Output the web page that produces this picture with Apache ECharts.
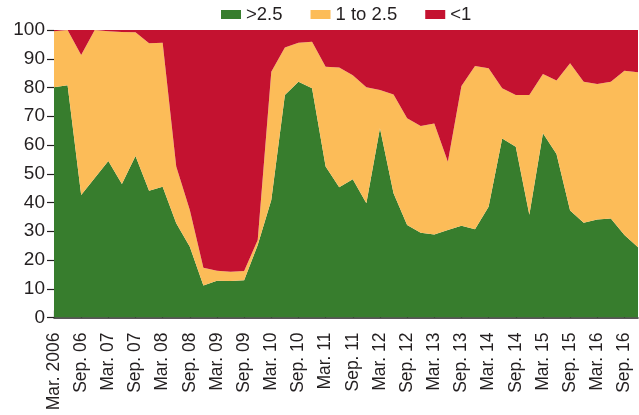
<!DOCTYPE html>
<html>
<head>
<meta charset="utf-8">
<script src="https://cdn.jsdelivr.net/npm/echarts@6/dist/echarts.min.js"></script>
<style>
  html, body { margin: 0; padding: 0; background: #fff; }
  #main { width: 639px; height: 415px; }
</style>
</head>
<body>
<div id="main"></div>
<script>
  // quarterly periods, labels shown every other one
  const quarters = [
    'Mar. 2006', 'Jun. 06', 'Sep. 06', 'Dec. 06',
    'Mar. 07', 'Jun. 07', 'Sep. 07', 'Dec. 07',
    'Mar. 08', 'Jun. 08', 'Sep. 08', 'Dec. 08',
    'Mar. 09', 'Jun. 09', 'Sep. 09', 'Dec. 09',
    'Mar. 10', 'Jun. 10', 'Sep. 10', 'Dec. 10',
    'Mar. 11', 'Jun. 11', 'Sep. 11', 'Dec. 11',
    'Mar. 12', 'Jun. 12', 'Sep. 12', 'Dec. 12',
    'Mar. 13', 'Jun. 13', 'Sep. 13', 'Dec. 13',
    'Mar. 14', 'Jun. 14', 'Sep. 14', 'Dec. 14',
    'Mar. 15', 'Jun. 15', 'Sep. 15', 'Dec. 15',
    'Mar. 16', 'Jun. 16', 'Sep. 16', 'Dec. 16'
  ]

  const seriesNames = ['>2.5', '1 to 2.5', '<1']

  const above25 = [
    80.1, 80.8, 42.6, 48.5, 54.4, 46.4, 56.2, 44.1, 45.5, 32.8, 24.6, 11.1,
    12.8, 12.7, 13.0, 25.2, 40.9, 77.4, 82.0, 79.7, 52.5, 45.3, 48.1, 39.7,
    65.8, 43.2, 32.2, 29.5, 28.9, 30.4, 31.9, 30.7, 38.5, 62.3, 59.4, 35.7,
    64.1, 56.9, 37.2, 33.0, 34.1, 34.4, 28.7, 24.4
  ]

  const oneTo25 = [
    19.5, 19.2, 48.7, 51.5, 45.2, 52.9, 43.0, 51.3, 50.1, 19.7, 12.8, 6.2,
    3.5, 3.2, 3.2, 1.8, 44.6, 16.5, 13.6, 16.2, 34.7, 41.7, 36.2, 40.4,
    13.3, 34.4, 37.1, 37.1, 38.6, 23.8, 48.6, 56.8, 48.2, 17.4, 18.0, 41.7,
    20.6, 25.5, 51.2, 49.0, 47.1, 47.6, 57.1, 60.9
  ]

  const below1 = [
    0.4, 0.0, 8.7, 0.0, 0.4, 0.7, 0.8, 4.6, 4.4, 47.5, 62.6, 82.7,
    83.7, 84.1, 83.8, 73.0, 14.5, 6.1, 4.4, 4.1, 12.8, 13.0, 15.7, 19.9,
    20.9, 22.4, 30.7, 33.4, 32.5, 45.8, 19.5, 12.5, 13.3, 20.3, 22.6, 22.6,
    15.3, 17.6, 11.6, 18.0, 18.8, 18.0, 14.2, 14.7
  ]

  const colors = ['#377d2d', '#fcbc58', '#c41230']
  const font = 'Liberation Sans, Arial, sans-serif'

  function areaSeries (name, data) {
    return {
      name: name,
      type: 'line',
      stack: 'total',
      data: data,
      showSymbol: false,
      lineStyle: { width: 0 },
      areaStyle: { opacity: 1 }
    }
  }

  const chart = echarts.init(document.getElementById('main'))
  chart.setOption({
    animation: false,
    color: colors,
    legend: {
      top: 5,
      left: 221,
      padding: 0,
      itemWidth: 20,
      itemHeight: 9,
      itemGap: 28,
      icon: 'rect',
      textStyle: { fontFamily: font, fontSize: 18.5, color: '#231f20' },
      data: seriesNames
    },
    grid: { left: 54, right: 1, top: 30, bottom: 97.5 },
    xAxis: {
      type: 'category',
      boundaryGap: false,
      data: quarters,
      axisLine: { lineStyle: { color: '#231f20', width: 1.5 } },
      axisTick: { inside: true, length: 7, interval: 1, lineStyle: { color: '#231f20', width: 1.2 } },
      axisLabel: {
        interval: 1,
        rotate: 90,
        margin: 15,
        fontFamily: font,
        fontSize: 17.5,
        color: '#231f20'
      }
    },
    yAxis: {
      type: 'value',
      min: 0,
      max: 100,
      interval: 10,
      splitLine: { show: false },
      axisLine: { show: false },
      axisTick: { show: true, length: 7, lineStyle: { color: '#231f20', width: 1.2 } },
      axisLabel: { margin: 9, fontFamily: font, fontSize: 19, color: '#231f20' }
    },
    series: [
      areaSeries(seriesNames[0], above25),
      areaSeries(seriesNames[1], oneTo25),
      areaSeries(seriesNames[2], below1)
    ]
  })
</script>
</body>
</html>
